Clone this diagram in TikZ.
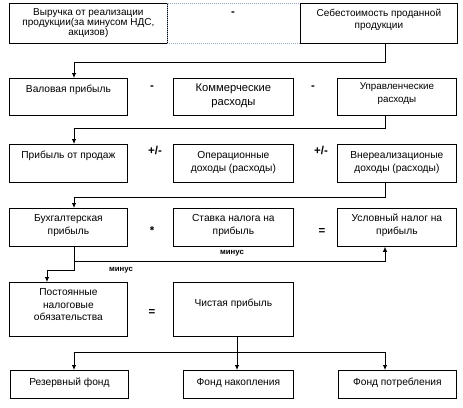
\documentclass[tikz,border=0pt]{standalone}
\usepackage{fontspec}
\setmainfont{Liberation Sans}
\usetikzlibrary{arrows.meta}
\definecolor{dotblue}{RGB}{150,170,200}
\begin{document}
\begin{tikzpicture}[x=1pt,y=-1pt,
  bx/.style={draw, line width=0.8pt, anchor=north west, inner sep=0pt},
  tx/.style={align=center, font=\fontsize{10.2}{12.8}\selectfont, inner sep=0pt, anchor=north},
  op/.style={font=\fontsize{11.5}{12}\selectfont\bfseries, inner sep=0pt},
  mn/.style={font=\fontsize{7.8}{9}\selectfont\bfseries, inner sep=0pt},
  ln/.style={line width=0.8pt},
  arr/.style={line width=0.8pt, -{Latex[length=5pt,width=4.5pt]}}]
\useasboundingbox (0,0) rectangle (463,407);

% row 1
\node[bx, minimum width=158, minimum height=40,
  label={[tx, font=\fontsize{10}{10.3}\selectfont, yshift=-5pt]north:{Выручка от реализации\\продукции(за минусом НДС,\\акцизов)}}] (b1) at (9,3) {};
\node[bx, draw=dotblue, dash pattern=on 1pt off 1pt, minimum width=133, minimum height=40] (bd) at (167,3) {};
\node[op] (o1) at (233,14) {-};
\node[bx, minimum width=157, minimum height=40,
  label={[tx, font=\fontsize{10}{11.5}\selectfont, yshift=-6pt]north:{Себестоимость проданной\\продукции}}] (b3) at (300,3) {};

% row 2
\node[bx, minimum width=118, minimum height=37,
  label={[tx, yshift=-7pt]north:{Валовая прибыль}}] (r2a) at (9,78) {};
\node[bx, minimum width=120, minimum height=37,
  label={[tx, font=\fontsize{11.2}{13.5}\selectfont, yshift=-6pt]north:{Коммерческие\\расходы}}] (r2b) at (173,78) {};
\node[bx, minimum width=119, minimum height=37,
  label={[tx, font=\fontsize{9.8}{13}\selectfont, yshift=-5pt]north:{Управленческие\\расходы}}] (r2c) at (337,78) {};
\node[op] (o2) at (152,88) {-};
\node[op] (o3) at (313,88) {-};

% row 3
\node[bx, minimum width=118, minimum height=38,
  label={[tx, yshift=-7pt]north:{Прибыль от продаж}}] (r3a) at (9,144) {};
\node[bx, minimum width=120, minimum height=38,
  label={[tx, yshift=-7pt]north:{Операционные\\доходы (расходы)}}] (r3b) at (173,144) {};
\node[bx, minimum width=119, minimum height=38,
  label={[tx, yshift=-7pt]north:{Внереализационые\\доходы (расходы)}}] (r3c) at (337,144) {};
\node[op] (o4) at (155,150) {+/-};
\node[op] (o5) at (321,150) {+/-};

% row 4
\node[bx, minimum width=118, minimum height=38,
  label={[tx, yshift=-6pt]north:{Бухгалтерская\\прибыль}}] (r4a) at (9,208) {};
\node[bx, minimum width=120, minimum height=38,
  label={[tx, yshift=-6pt]north:{Ставка налога на\\прибыль}}] (r4b) at (173,208) {};
\node[bx, minimum width=119, minimum height=38,
  label={[tx, yshift=-6pt]north:{Условный налог на\\прибыль}}] (r4c) at (337,208) {};
\node[op] (o6) at (152,231) {*};
\node[op] (o7) at (322,232) {=};

% row 5
\node[bx, minimum width=118, minimum height=54,
  label={[tx, yshift=-6pt]north:{Постоянные\\налоговые\\обязательства}}] (r5a) at (9,282) {};
\node[bx, minimum width=120, minimum height=54,
  label={[tx, yshift=-17pt]north:{Чистая прибыль}}] (r5b) at (173,282) {};
\node[op] (o8) at (152,313) {=};

% row 6
\node[bx, minimum width=118, minimum height=28,
  label={[tx, yshift=-8pt]north:{Резервный фонд}}] (r6a) at (10,370) {};
\node[bx, minimum width=110, minimum height=28,
  label={[tx, yshift=-8pt]north:{Фонд накопления}}] (r6b) at (183,370) {};
\node[bx, minimum width=118, minimum height=28,
  label={[tx, yshift=-8pt]north:{Фонд потребления}}] (r6c) at (338,370) {};

% junction coordinates
\coordinate (j1r) at (385,62);  \coordinate (j1l) at (74,62);
\coordinate (j2r) at (385,128); \coordinate (j2l) at (74,128);
\coordinate (j3r) at (385,197); \coordinate (j3l) at (74,197);
\coordinate (j4l) at (74,261);  \coordinate (j4r) at (385,261);
\coordinate (j5a) at (74,270);  \coordinate (j5b) at (47,270);
\coordinate (j6m) at (237,352); \coordinate (j6l) at (74,352); \coordinate (j6r) at (385,352);

% connectors
\draw[arr] (b3.south -| j1r) |- (j1l) -- (r2a.north -| j1l);
\draw[arr] (r2c.south -| j2r) |- (j2l) -- (r3a.north -| j2l);
\draw[arr] (r3c.south -| j3r) |- (j3l) -- (r4a.north -| j3l);
\draw[arr] (r4a.south -| j4l) -- (j4l) -- (j4r) -- (r4c.south -| j4r);
\draw[arr] (j4l) -- (j5a) -- (j5b) -- (r5a.north -| j5b);
\draw[ln] (r5b.south -| j6m) -- (j6m);
\draw[ln] (j6l) -- (j6r);
\draw[arr] (j6l) -- (r6a.north -| j6l);
\draw[arr] (j6m) -- (r6b.north -| j6m);
\draw[arr] (j6r) -- (r6c.north -| j6r);

\node[mn] (m1) at (232,253) {минус};
\node[mn] (m2) at (121,270) {минус};
\end{tikzpicture}
\end{document}
